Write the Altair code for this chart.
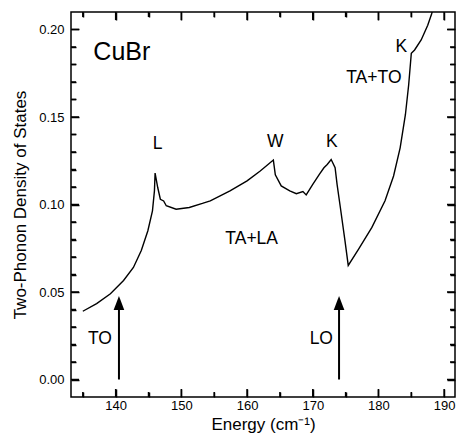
import altair as alt
import pandas as pd

# Two-phonon density of states of CuBr
energy = [135.0, 137.1, 139.2, 141.2, 142.7, 143.9, 144.9, 145.6, 145.9, 146.0,
          146.4, 146.8, 147.3, 147.7, 149.2, 151.2, 153.2, 154.4, 157.4, 160.0,
          162.0, 164.0, 164.3, 165.2, 166.5, 167.5, 168.5, 169.0, 170.0, 171.0,
          171.7, 172.2, 172.8, 173.4, 173.7, 174.2, 174.9, 175.4, 177.0, 179.0,
          181.0, 182.3, 183.3, 184.1, 184.6, 185.0, 185.5, 186.5, 187.5, 188.1,
          188.3]
dos = [0.0390, 0.0434, 0.0490, 0.0566, 0.0640, 0.0737, 0.0850, 0.0964, 0.1078, 0.1180,
       0.1097, 0.1030, 0.1020, 0.0993, 0.0973, 0.0983, 0.1006, 0.1021, 0.1078, 0.1135,
       0.1191, 0.1254, 0.1170, 0.1106, 0.1078, 0.1062, 0.1074, 0.1055, 0.1115, 0.1172,
       0.1210, 0.1229, 0.1257, 0.1210, 0.1115, 0.0983, 0.0794, 0.0652, 0.0746, 0.0869,
       0.1021, 0.1163, 0.1324, 0.1513, 0.1684, 0.1864, 0.1883, 0.1940, 0.2024, 0.2090,
       0.2120]

x_major = [140, 150, 160, 170, 180, 190]
x_minor = [135, 145, 155, 165, 175, 185]
y_major = [0.00, 0.05, 0.10, 0.15, 0.20]
y_minor = [0.01, 0.02, 0.03, 0.04, 0.06, 0.07, 0.08, 0.09,
           0.11, 0.12, 0.13, 0.14, 0.16, 0.17, 0.18, 0.19]

# annotations
lab_text = ["L", "W", "K", "K", "TA+TO", "TA+LA", "TO", "LO"]
lab_x = [146.4, 164.3, 172.9, 183.5, 179.3, 160.7, 137.6, 171.3]
lab_y = [0.1347, 0.1358, 0.1358, 0.190, 0.1725, 0.0805, 0.0234, 0.0234]
title_text = ["CuBr"]
title_x = [136.6]
title_y = [0.187]

# arrows (TO and LO phonon energies)
arrow_x = [140.5, 174.0]
arrow_base = [0.0, 0.0]
arrow_tip = [0.0477, 0.0477]

W, H = 384, 385
FONT = "Liberation Sans"

xs = alt.Scale(domain=[133.2, 191.65], nice=False, zero=False)
ys = alt.Scale(domain=[-0.01, 0.21], nice=False, zero=False)

x_axis = alt.Axis(values=x_major, title="Energy (cm⁻¹)", ticks=False, domain=False,
                  grid=False, labelPadding=2, titleY=32, titleBaseline="alphabetic",
                  titleFontSize=17)
y_axis = alt.Axis(values=y_major, format=".2f", title="Two-Phonon Density of States",
                  ticks=False, domain=False, grid=False, labelPadding=7, titleX=-46,
                  titleBaseline="alphabetic", titleFontSize=17)

curve_df = pd.DataFrame({"E": energy, "D": dos})
curve = alt.Chart(curve_df).mark_line(
    color="black", strokeWidth=1.4, clip=True
).encode(
    x=alt.X("E:Q", scale=xs, axis=x_axis),
    y=alt.Y("D:Q", scale=ys, axis=y_axis),
)


def tick_axis(orient, vals, length):
    # axis drawn inside the frame: shifted inward by its own tick length
    return alt.Axis(orient=orient, values=vals, offset=-length, tickSize=length,
                    ticks=True, tickColor="black", tickWidth=1.5, labels=False,
                    domain=False, grid=False, title=None)


def tick_layer(xo, xv, yo, yv, length):
    return alt.Chart(curve_df).mark_point(opacity=0).encode(
        x=alt.X("E:Q", scale=xs, axis=tick_axis(xo, xv, length)),
        y=alt.Y("D:Q", scale=ys, axis=tick_axis(yo, yv, length)),
    )


tick_layers = [
    tick_layer("bottom", x_major, "left", y_major, 8),
    tick_layer("top", x_major, "right", y_major, 8),
    tick_layer("bottom", x_minor, "left", y_minor, 5),
    tick_layer("top", x_minor, "right", y_minor, 5),
]


def NX(field):
    return alt.X(field, type="quantitative", scale=xs, axis=None)


def NY(field):
    return alt.Y(field, type="quantitative", scale=ys, axis=None)


# the same inward ticks drawn once more as rules (identical positions)
def x_rules(vals, length):
    df = pd.DataFrame({"v": vals})
    rule = alt.Chart(df).mark_rule(color="black", strokeWidth=1.5)
    return [
        rule.encode(x=NX("v"), y=alt.value(H), y2=alt.value(H - length)),
        rule.encode(x=NX("v"), y=alt.value(0), y2=alt.value(length)),
    ]


def y_rules(vals, length):
    df = pd.DataFrame({"v": vals})
    rule = alt.Chart(df).mark_rule(color="black", strokeWidth=1.5)
    return [
        rule.encode(y=NY("v"), x=alt.value(0), x2=alt.value(length)),
        rule.encode(y=NY("v"), x=alt.value(W), x2=alt.value(W - length)),
    ]


rules = x_rules(x_major, 8) + x_rules(x_minor, 5) + y_rules(y_major, 8) + y_rules(y_minor, 5)

arrows_df = pd.DataFrame({"x": arrow_x, "b": arrow_base, "t": arrow_tip})
arrows_df["shaft"] = arrows_df["t"] - 0.007
arrows_df["head"] = arrows_df["t"] - 0.004
shaft = alt.Chart(arrows_df).mark_rule(color="black", strokeWidth=2).encode(
    x=NX("x"), y=NY("b"), y2="shaft:Q")
head = alt.Chart(arrows_df).mark_point(
    shape="M0,-1L0.76,1L-0.76,1Z", filled=True, color="black", opacity=1, size=196
).encode(x=NX("x"), y=NY("head"))

labels = alt.Chart(pd.DataFrame({"t": lab_text, "x": lab_x, "y": lab_y})).mark_text(
    font=FONT, fontSize=17.5, color="black", align="center", baseline="middle"
).encode(x=NX("x"), y=NY("y"), text="t:N")

big = alt.Chart(pd.DataFrame({"t": title_text, "x": title_x, "y": title_y})).mark_text(
    font=FONT, fontSize=25, color="black", align="left", baseline="middle"
).encode(x=NX("x"), y=NY("y"), text="t:N")

chart = alt.layer(curve, *tick_layers, *rules, shaft, head, labels, big).resolve_axis(
    x="independent", y="independent"
).properties(
    width=W, height=H,
    padding={"left": 63, "top": 4, "right": 1, "bottom": 36},
    autosize=alt.AutoSizeParams(type="none"),
).configure_view(stroke="black", strokeWidth=1.5).configure_axis(
    labelFont=FONT, titleFont=FONT, labelColor="black", titleColor="black",
    labelFontSize=13, titleFontWeight="normal"
)

chart.save("out.html", embed_options={"renderer": "svg", "actions": False})
